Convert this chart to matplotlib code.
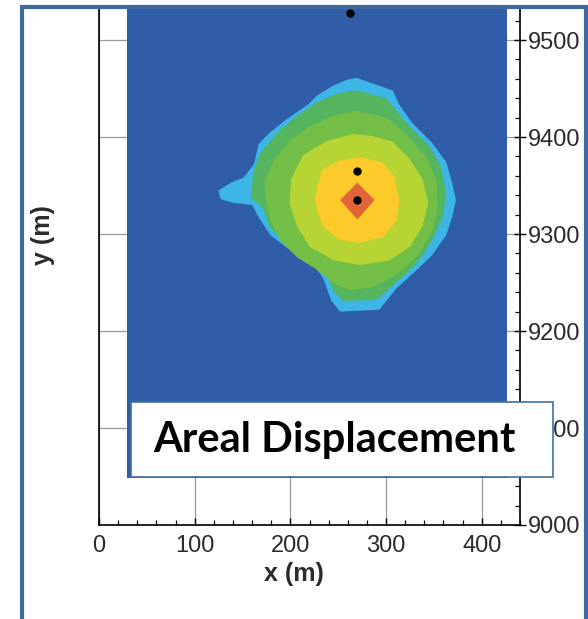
import matplotlib.pyplot as plt
from matplotlib.patches import Rectangle

# contour bands, outermost first: (x, y) in metres
band_colors = ['#3DB5E6', '#55B45E', '#72BE47', '#B6D434', '#FCCB2B', '#E2653A']

lightblue_x = [269, 307, 314, 327, 348, 363, 369, 373, 369, 363, 348, 331, 311, 293, 252, 243,
               234, 221, 200, 179, 167, 160, 141, 127, 125, 138, 151, 162, 167, 179, 197, 218,
               228, 245, 259]
lightblue_y = [9461, 9448, 9433, 9415, 9394, 9374, 9353, 9335, 9317, 9299, 9278, 9262, 9244, 9222,
               9220, 9231, 9255, 9272, 9283, 9299, 9317, 9330, 9332, 9336, 9345, 9353, 9358, 9372,
               9393, 9405, 9419, 9433, 9443, 9453, 9459]

green1_x = [269, 300, 321, 345, 357, 363, 359, 348, 331, 307, 290, 255, 245, 238, 221, 197, 179,
            171, 159, 161, 169, 187, 207, 228, 249]
green1_y = [9448, 9440, 9415, 9391, 9371, 9342, 9317, 9293, 9268, 9247, 9232, 9231, 9241, 9258,
            9275, 9289, 9306, 9327, 9337, 9363, 9384, 9405, 9422, 9436, 9445]

green2_x = [269, 301, 322, 343, 353, 354, 349, 335, 314, 286, 262, 245, 228, 207, 189, 179, 175,
            173, 182, 199, 220, 245]
green2_y = [9427, 9420, 9402, 9378, 9354, 9328, 9304, 9280, 9260, 9245, 9242, 9249, 9263, 9276,
            9294, 9314, 9332, 9354, 9375, 9396, 9411, 9422]

ygreen_x = [265, 286, 307, 325, 338, 344, 338, 325, 304, 273, 245, 220, 207, 199, 201, 213, 238]
ygreen_y = [9403, 9401, 9395, 9377, 9357, 9332, 9308, 9287, 9273, 9268, 9273, 9287, 9308, 9332,
            9357, 9381, 9396]

yellow_x = [233, 252, 273, 296, 309, 314, 311, 297, 273, 252, 234, 228, 226]
yellow_y = [9366, 9376, 9379, 9374, 9359, 9335, 9314, 9297, 9291, 9294, 9308, 9325, 9338]

orange_x = [270, 288, 270, 252]
orange_y = [9353, 9335, 9315, 9335]

bands = [(lightblue_x, lightblue_y), (green1_x, green1_y), (green2_x, green2_y),
         (ygreen_x, ygreen_y), (yellow_x, yellow_y), (orange_x, orange_y)]

# blue background of the map
bg_x = [29, 426]
bg_y0 = 9048
bg_y1 = 9540

# wells
well_x = [270, 270, 262]
well_y = [9365, 9335, 9528]

W, H = 588, 619
fig = plt.figure(figsize=(W / 100, H / 100), dpi=100)
ax = fig.add_axes([99 / W, 1 - 525 / H, 421 / W, 517 / H])

ax.fill_between(bg_x, bg_y0, bg_y1, color='#2F5DA8', lw=0, zorder=2)
for (bx, by), c in zip(bands, band_colors):
    ax.fill(bx, by, color=c, lw=0, zorder=3)
ax.plot(well_x, well_y, 'o', color='black', ms=5, zorder=4)

ax.set_xlim(0, 440)
ax.set_ylim(9000, 9533)
ax.set_xticks([0, 100, 200, 300, 400])
ax.set_yticks([9000, 9100, 9200, 9300, 9400, 9500])
ax.set_xticks(range(0, 441, 20), minor=True)
ax.set_yticks(range(9000, 9533, 20), minor=True)
ax.yaxis.tick_right()
ax.grid(True, color='#999999', lw=0.9)
ax.set_axisbelow(True)

ax.tick_params(axis='x', which='major', direction='in', length=5, width=1,
               pad=7, labelsize=17, labelcolor='#2b2b2b')
ax.tick_params(axis='x', which='minor', direction='in', length=3.5, width=0.9)
ax.tick_params(axis='y', which='major', direction='inout', length=8, width=1,
               pad=2, labelsize=17, labelcolor='#2b2b2b')
ax.tick_params(axis='y', which='minor', direction='in', length=3.5, width=0.9)
for lab in ax.get_xticklabels() + ax.get_yticklabels():
    lab.set_family('Liberation Sans')

ax.spines['top'].set_visible(False)
for s in ['left', 'right', 'bottom']:
    ax.spines[s].set_linewidth(1.2)

ax.set_xlabel('x (m)', fontsize=18, fontweight='bold', family='Liberation Sans', color='#2b2b2b')
ax.xaxis.set_label_coords(0.463, -0.072)
ax.set_ylabel('y (m)', fontsize=18, fontweight='bold', family='Liberation Sans', color='#2b2b2b')
ax.yaxis.set_label_position('left')
ax.yaxis.set_label_coords(-0.105, 0.56)

# caption box
fig.patches.append(Rectangle((131 / W, 1 - 477 / H), 422 / W, 75 / H, transform=fig.transFigure,
                             fc='white', ec='#41719C', lw=1.2, zorder=5))
fig.text(334 / W, 1 - 452 / H, 'Areal Displacement', ha='center', va='baseline',
         fontsize=30, fontweight='bold', family='Lato', color='black', zorder=6)

# outer frame
fig.patches.append(Rectangle((22 / W, -0.02), 564 / W, 1 - 6.5 / H + 0.02, transform=fig.transFigure,
                             fill=False, ec='#3F6A9E', lw=3, zorder=7))

fig.savefig('out.png', dpi=100)
